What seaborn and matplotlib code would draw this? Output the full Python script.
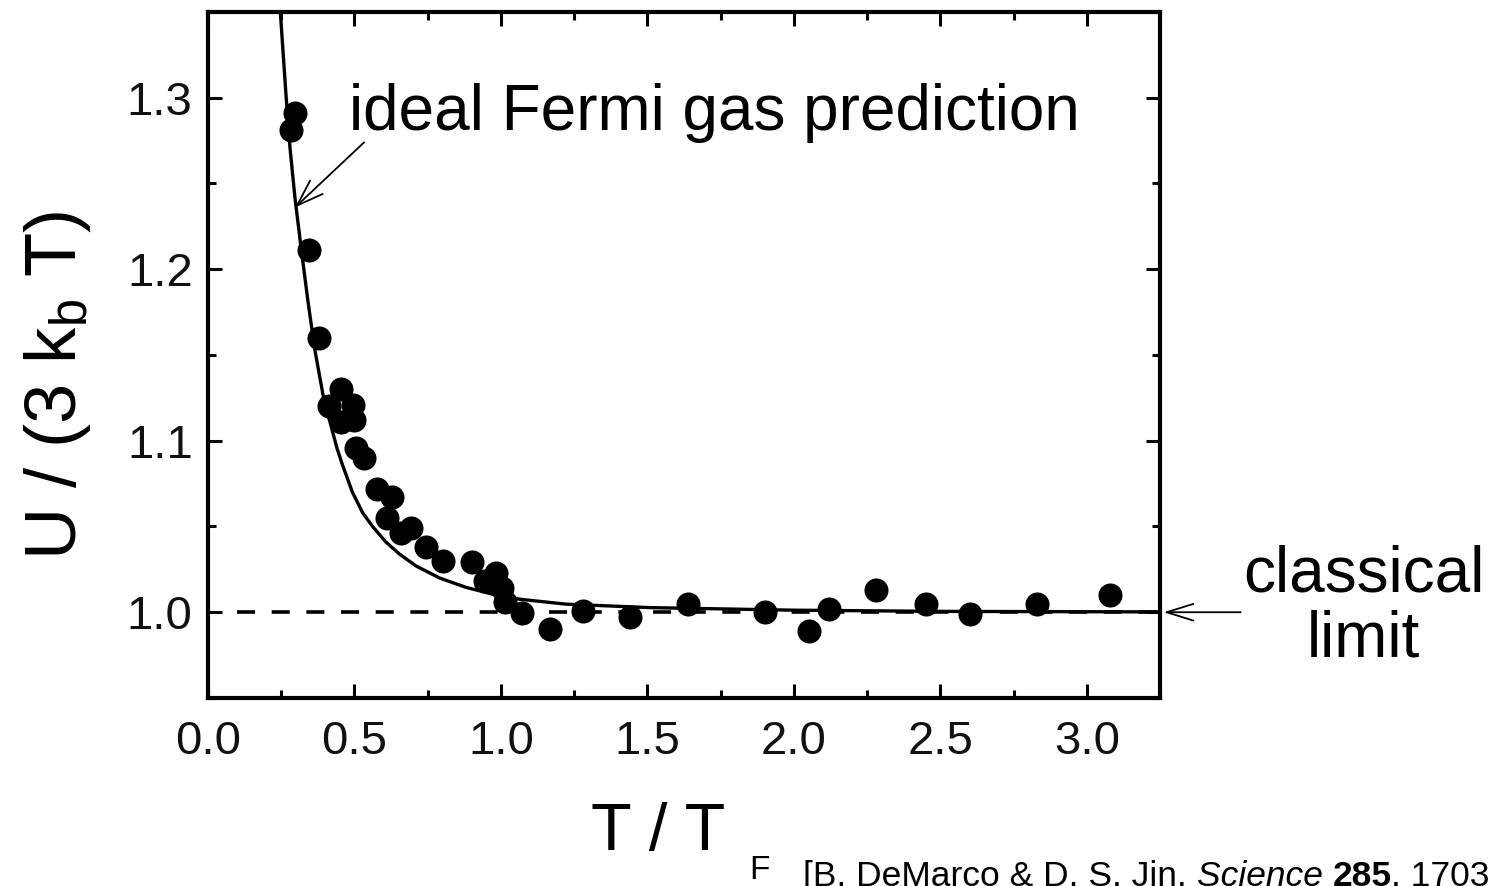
import numpy as np
import pandas as pd
import matplotlib
matplotlib.use("Agg")
import matplotlib.pyplot as plt
from matplotlib import font_manager
from matplotlib.ticker import MultipleLocator
import seaborn as sns

# ---------------- data ----------------
t_data = [0.284, 0.297, 0.345, 0.379, 0.414, 0.453, 0.453, 0.494, 0.499,
          0.506, 0.533, 0.578, 0.629, 0.612, 0.693, 0.660, 0.744, 0.801,
          0.901, 0.983, 0.947, 1.005, 1.015, 1.072, 1.166, 1.280, 1.440,
          1.640, 1.900, 2.050, 2.120, 2.280, 2.450, 2.600, 2.830, 3.080]
u_data = [1.281, 1.291, 1.211, 1.160, 1.120, 1.130, 1.111, 1.121, 1.112,
          1.096, 1.090, 1.072, 1.067, 1.055, 1.049, 1.046, 1.038, 1.030,
          1.029, 1.023, 1.018, 1.014, 1.006, 0.9995, 0.990, 1.001, 0.997,
          1.005, 1.000, 0.989, 1.002, 1.013, 1.005, 0.999, 1.005, 1.010]

t_theory = [0.246, 0.267, 0.280, 0.297, 0.318, 0.340, 0.364, 0.395, 0.441,
            0.459, 0.493, 0.528, 0.562, 0.607, 0.653, 0.710, 0.790, 0.881,
            0.972, 1.063, 1.223, 1.508, 2.000, 2.500, 3.250]
u_theory = [1.3526, 1.300, 1.2708, 1.2415, 1.2123, 1.183, 1.1538, 1.1246,
            1.0953, 1.086, 1.070, 1.058, 1.050, 1.041, 1.034, 1.027, 1.020,
            1.0145, 1.0105, 1.0076, 1.0047, 1.0027, 1.0012, 1.0005, 1.0002]

classical_value = 1.0
x_ticks = [0.0, 0.5, 1.0, 1.5, 2.0, 2.5, 3.0]
y_ticks = [1.0, 1.1, 1.2, 1.3]

df_data = pd.DataFrame({"t": t_data, "u": u_data})
df_theory = pd.DataFrame({"t": t_theory, "u": u_theory})

# ---------------- style ----------------
sns.set_theme(style="ticks")
plt.rcParams["font.family"] = ["Liberation Sans", "DejaVu Sans"]
plt.rcParams["mathtext.fontset"] = "custom"
plt.rcParams["mathtext.rm"] = "Liberation Sans"
plt.rcParams["text.color"] = "black"
plt.rcParams["axes.labelcolor"] = "black"

names = {f.name for f in font_manager.fontManager.ttflist}
narrow = "Liberation Sans Narrow" in names

fig = plt.figure(figsize=(14.94, 8.86), dpi=100)
ax = fig.add_axes([0.1392, 0.2122, 0.7765 - 0.1392, 0.9865 - 0.2122])

sns.lineplot(data=df_theory, x="t", y="u", ax=ax, color="black", lw=2.4,
             sort=False, estimator=None, zorder=3)
ax.axhline(classical_value, xmin=0.03, xmax=1.0, color="black", lw=2.6,
           dashes=(5.0, 4.6), zorder=2)
sns.scatterplot(data=df_data, x="t", y="u", ax=ax, color="black", s=300,
                edgecolor="black", linewidth=0, zorder=4)

ax.set_xlim(0.0, 3.25)
ax.set_ylim(0.95, 1.35)
ax.set_xticks(x_ticks)
ax.set_xticklabels([f"{v:.1f}" for v in x_ticks])
ax.set_yticks(y_ticks)
ax.set_yticklabels([f"{v:.1f}" for v in y_ticks])
ax.xaxis.set_minor_locator(MultipleLocator(0.25))
ax.yaxis.set_minor_locator(MultipleLocator(0.05))
ax.tick_params(which="both", direction="in", top=True, right=True,
               width=2.2, color="black")
ax.tick_params(which="major", length=10, labelsize=34, labelcolor="#111111")
ax.tick_params(which="minor", length=5.5)
ax.tick_params(axis="x", which="major", pad=16)
ax.tick_params(axis="y", which="major", pad=11)
for sp in ax.spines.values():
    sp.set_linewidth(3)
    sp.set_color("black")
ax.set_xlabel("")
ax.set_ylabel("")

# axis titles
fig.text(58 / 1494, 1 - 385 / 886, r"U / (3 k$_\mathregular{b}$ T)",
         fontsize=52, rotation=90, ha="center", va="center", color="black")
fig.text(658 / 1494, 1 - 850 / 886, "T / T", fontsize=48, ha="center",
         va="baseline", color="black")
fig.text(749 / 1494, 1 - 879 / 886, "F", fontsize=24, ha="left",
         va="baseline", color="black")

# annotations
ax.text(0.482, 1.281, "ideal Fermi gas prediction", fontsize=46,
        ha="left", va="baseline", color="black")
ax.annotate("", xy=(0.297, 1.236), xytext=(0.533, 1.274),
            arrowprops=dict(arrowstyle="->,head_length=1.6,head_width=0.55",
                            color="black", lw=1.3, shrinkA=0, shrinkB=0))
ax.text(3.945, 1.003, "classical\nlimit", fontsize=46, ha="center",
        va="center", linespacing=1.12, clip_on=False, color="black")
ax.annotate("", xy=(3.262, 1.0), xytext=(3.525, 1.0), annotation_clip=False,
            arrowprops=dict(arrowstyle="->,head_length=1.6,head_width=0.5",
                            color="black", lw=1.3, shrinkA=0, shrinkB=0))

# citation, drawn piece by piece
if narrow:
    cfam, csize, cbase = "Liberation Sans Narrow", 31, 891
else:
    cfam, csize, cbase = "Liberation Sans", 25.5, 886
pieces = [("[B. DeMarco & D. S. Jin, ", "normal", "normal"),
          ("Science", "italic", "normal"),
          (" ", "normal", "normal"),
          ("285", "normal", "bold"),
          (", 1703 (1999)]", "normal", "normal")]
renderer = fig.canvas.get_renderer()
xpos = 803
for txt, style, weight in pieces:
    t = fig.text(xpos / 1494, 1 - cbase / 886, txt, fontsize=csize,
                 family=cfam, style=style, weight=weight, ha="left",
                 va="baseline", color="black")
    bb = t.get_window_extent(renderer=renderer)
    xpos += bb.width

fig.savefig("out.png", dpi=100)
